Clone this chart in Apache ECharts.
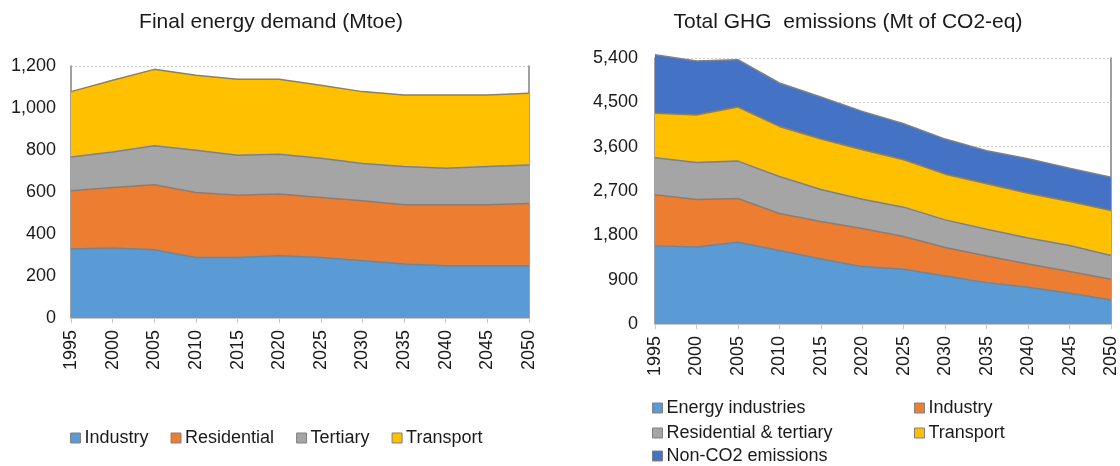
<!DOCTYPE html>
<html>
<head>
<meta charset="utf-8">
<script src="https://cdn.jsdelivr.net/npm/echarts@6/dist/echarts.min.js"></script>
<style>
  html, body { margin: 0; padding: 0; background: #fff; }
  #wrap { position: relative; width: 1120px; height: 466px; }
  #energy { position: absolute; left: 0; top: 0; width: 560px; height: 466px; }
  #ghg { position: absolute; left: 560px; top: 0; width: 560px; height: 466px; }
</style>
</head>
<body>
<div id="wrap">
  <div id="energy"></div>
  <div id="ghg"></div>
</div>
<script>
// years on both x axes
const years = ['1995', '2000', '2005', '2010', '2015', '2020', '2025', '2030', '2035', '2040', '2045', '2050']

// Final energy demand (Mtoe)
const demandIndustry = [328, 333, 325, 288, 288, 296, 288, 273, 257, 249, 249, 249]
const demandResidential = [278, 288, 309, 310, 297, 294, 286, 285, 282, 290, 290, 296]
const demandTertiary = [161, 170, 186, 201, 190, 190, 187, 178, 182, 174, 182, 183]
const demandTransport = [311, 341, 364, 357, 362, 357, 347, 342, 341, 349, 341, 342]
const demandTicks = [0, 200, 400, 600, 800, 1000, 1200]

// Total GHG emissions (Mt of CO2-eq)
const ghgEnergy = [1586, 1565, 1660, 1491, 1321, 1165, 1111, 976, 840, 745, 623, 488]
const ghgIndustry = [1036, 962, 888, 752, 759, 773, 664, 576, 542, 475, 441, 420]
const ghgResTer = [752, 753, 759, 752, 651, 596, 597, 562, 542, 528, 528, 481]
const ghgTransport = [902, 962, 1097, 1016, 1023, 1003, 962, 928, 922, 908, 895, 915]
const ghgNonCO2 = [1192, 1097, 963, 881, 854, 779, 732, 712, 671, 698, 677, 677]
const ghgTicks = [0, 900, 1800, 2700, 3600, 4500, 5400]

const font = 'Liberation Sans, Arial, sans-serif'
const textColor = '#1a1a1a'
const edgeColor = '#808080'

const areaSeries = (name, data, color) => ({
  name: name,
  type: 'line',
  stack: 'total',
  data: data,
  showSymbol: false,
  symbol: 'none',
  clip: false,
  color: color,
  lineStyle: { color: edgeColor, width: 1.5 },
  itemStyle: { color: color, borderColor: edgeColor, borderWidth: 1 },
  areaStyle: { color: color, opacity: 1 },
  emphasis: { disabled: true }
})

const xAxisOpt = () => ({
  type: 'category',
  boundaryGap: false,
  data: years,
  axisLine: { lineStyle: { color: '#c8c8c8', width: 1 } },
  axisTick: { show: true, length: 5, lineStyle: { color: '#c8c8c8' } },
  axisLabel: { rotate: 90, fontSize: 18, color: textColor, fontFamily: font, margin: 12 }
})

const yAxesOpt = (ticks, margin) => {
  const min = ticks[0]
  const max = ticks[ticks.length - 1]
  const interval = ticks[1] - ticks[0]
  return [
    {
      type: 'value',
      min: min,
      max: max,
      interval: interval,
      axisLine: { show: true, lineStyle: { color: edgeColor, width: 1.5 } },
      axisTick: { show: false },
      splitLine: { show: true, lineStyle: { color: '#d0d0d0', type: [2, 2], width: 1 } },
      axisLabel: {
        fontSize: 18,
        color: textColor,
        fontFamily: font,
        margin: margin,
        formatter: (v) => v.toLocaleString('en-US')
      }
    },
    {
      type: 'value',
      position: 'right',
      min: min,
      max: max,
      interval: interval,
      axisLine: { show: true, lineStyle: { color: edgeColor, width: 1.5 } },
      axisTick: { show: false },
      splitLine: { show: false },
      axisLabel: { show: false }
    }
  ]
}

const legendItem = (names, left, top, gap) => ({
  icon: 'rect',
  itemWidth: 10,
  itemHeight: 10,
  itemGap: gap || 10,
  selectedMode: false,
  left: left,
  top: top,
  itemStyle: { borderColor: edgeColor, borderWidth: 1 },
  textStyle: { fontSize: 18, color: textColor, fontFamily: font, padding: [0, 0, 0, -1] },
  data: names
})

const energyChart = echarts.init(document.getElementById('energy'))
energyChart.setOption({
  animation: false,
  title: {
    text: 'Final energy demand (Mtoe)',
    left: 271,
    top: 12,
    textAlign: 'center',
    padding: 0,
    textStyle: { fontSize: 21, fontWeight: 'normal', color: textColor, fontFamily: font }
  },
  grid: { left: 71, right: 31, top: 66, bottom: 148 },
  xAxis: xAxisOpt(),
  yAxis: yAxesOpt(demandTicks, 15),
  legend: legendItem(['Industry', 'Residential', 'Tertiary', 'Transport'], 65, 424, 22),
  series: [
    areaSeries('Industry', demandIndustry, '#5b9bd5'),
    areaSeries('Residential', demandResidential, '#ed7d31'),
    areaSeries('Tertiary', demandTertiary, '#a5a5a5'),
    areaSeries('Transport', demandTransport, '#ffc000')
  ]
})

const ghgChart = echarts.init(document.getElementById('ghg'))
ghgChart.setOption({
  animation: false,
  title: {
    text: 'Total GHG  emissions (Mt of CO2-eq)',
    left: 288,
    top: 12,
    textAlign: 'center',
    padding: 0,
    textStyle: { fontSize: 21, fontWeight: 'normal', color: textColor, fontFamily: font }
  },
  grid: { left: 95, right: 8, top: 58, bottom: 142 },
  xAxis: xAxisOpt(),
  yAxis: yAxesOpt(ghgTicks, 17),
  legend: [
    legendItem(['Energy industries'], 87, 394),
    legendItem(['Industry'], 349, 394),
    legendItem(['Residential & tertiary'], 87, 419),
    legendItem(['Transport'], 349, 419),
    legendItem(['Non-CO2 emissions'], 87, 442)
  ],
  series: [
    areaSeries('Energy industries', ghgEnergy, '#5b9bd5'),
    areaSeries('Industry', ghgIndustry, '#ed7d31'),
    areaSeries('Residential & tertiary', ghgResTer, '#a5a5a5'),
    areaSeries('Transport', ghgTransport, '#ffc000'),
    areaSeries('Non-CO2 emissions', ghgNonCO2, '#4472c4')
  ]
})
</script>
</body>
</html>
